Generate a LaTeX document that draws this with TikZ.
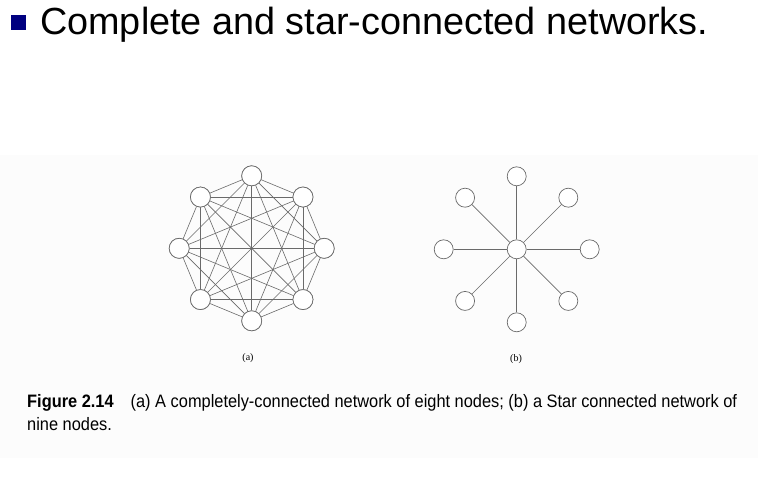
\documentclass[tikz,border=0pt]{standalone}
\usepackage{fontspec}
\setmainfont{Liberation Sans}
\newfontfamily\capfont[FakeStretch=0.91]{Liberation Sans}
\newfontfamily\serfont{Liberation Serif}
\definecolor{bulletblue}{HTML}{000080}
\definecolor{edgegray}{HTML}{6A6A6A}
\definecolor{figbg}{HTML}{FCFCFC}
\tikzset{
  vtx/.style={circle, draw=edgegray, fill=white, line width=0.7pt, minimum size=20pt, inner sep=0pt},
  svtx/.style={circle, draw=edgegray, fill=white, line width=0.7pt, minimum size=19pt, inner sep=0pt},
  link/.style={draw=edgegray, line width=0.6pt},
  sublabel/.style={font=\serfont\fontsize{10}{11}\selectfont, inner sep=0pt},
  captext/.style={anchor=base west, inner sep=0pt, font=\capfont\fontsize{18}{23}\selectfont},
}
\begin{document}
\begin{tikzpicture}[x=1pt,y=-1pt]
\useasboundingbox (0,0) rectangle (758,480);
\fill[figbg] (0,155) rectangle (758,458);
% title
\fill[bulletblue] (11,15) rectangle (26,30);
\node[anchor=base west, inner sep=0pt, font=\fontsize{37.8}{40}\selectfont] (title) at (40,34) {Complete and star-connected networks.};
% complete network
\foreach \i in {0,...,7} {
  \node[vtx] (c\i) at ({251.7+72.5*cos(90-45*\i)}, {248.3-72.5*sin(90-45*\i)}) {};
}
\foreach \i in {0,...,7} {
  \foreach \j in {0,...,7} {
    \ifnum\i<\j
      \draw[link] (c\i) -- (c\j);
    \fi
  }
}
\foreach \i in {0,...,7} {
  \node[vtx] at (c\i) {};
}
% star network
\node[svtx] (s) at (516.7,249.3) {};
\foreach \i in {0,...,7} {
  \node[svtx] (p\i) at ({516.7+73*cos(90-45*\i)}, {249.3-73*sin(90-45*\i)}) {};
  \draw[link] (s) -- (p\i);
}
% sublabels
\node[sublabel] (la) at (248,358) {(a)};
\node[sublabel] (lb) at (516,359) {(b)};
% caption
\node[captext] (cap1) at (27,407) {\textbf{Figure 2.14}\hspace{17pt}(a) A completely-connected network of eight nodes; (b) a Star connected network of};
\node[captext] (cap2) at (27,430) {nine nodes.};
\end{tikzpicture}
\end{document}
